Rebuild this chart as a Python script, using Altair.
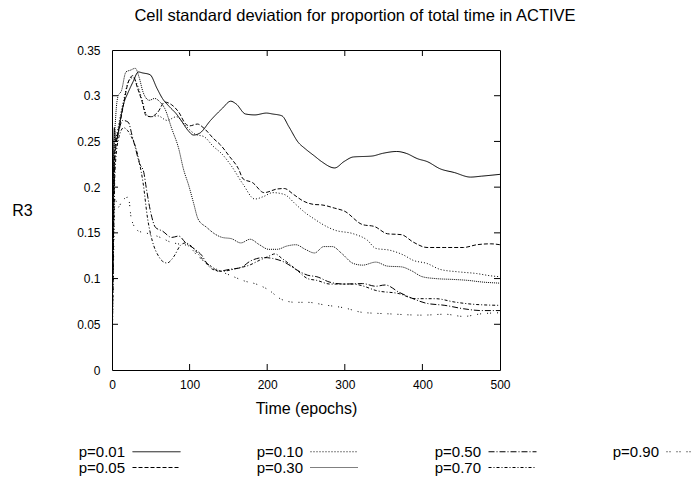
import altair as alt
import pandas as pd

title_text = "Cell standard deviation for proportion of total time in ACTIVE"
series_names = ["p=0.01", "p=0.05", "p=0.10", "p=0.30", "p=0.50", "p=0.70", "p=0.90"]
series_dash = [[1, 0], [4, 2], [1, 2], [1, 1], [6, 2, 1, 2], [3, 2, 1, 2], [1, 2, 1, 6]]

t_p001 = [0, 1, 3, 5, 7, 10, 15, 21, 27, 34, 39, 49, 58, 65, 74, 83, 89, 98, 105, 113, 127, 142, 153, 160, 172, 184, 199, 207, 219, 228, 240, 249, 261, 270, 287, 299, 311, 335, 349, 367, 379, 394, 406, 423, 441, 462, 476, 500]
v_p001 = [0, 0.12, 0.265, 0.25, 0.255, 0.27, 0.291, 0.304, 0.315, 0.326, 0.325, 0.323, 0.308, 0.297, 0.288, 0.28, 0.273, 0.262, 0.257, 0.259, 0.273, 0.286, 0.294, 0.291, 0.280, 0.279, 0.281, 0.280, 0.278, 0.266, 0.249, 0.242, 0.234, 0.228, 0.221, 0.228, 0.233, 0.234, 0.237, 0.239, 0.237, 0.231, 0.228, 0.220, 0.216, 0.211, 0.212, 0.214]

t_p005 = [0, 2, 4, 9, 15, 21, 27, 33, 39, 44, 50, 59, 68, 77, 86, 95, 100, 110, 119, 131, 140, 151, 163, 169, 181, 196, 213, 222, 234, 246, 261, 270, 287, 299, 323, 338, 355, 373, 388, 406, 429, 453, 470, 488, 500]
v_p005 = [0, 0.18, 0.245, 0.264, 0.291, 0.315, 0.322, 0.308, 0.293, 0.278, 0.277, 0.282, 0.293, 0.290, 0.282, 0.269, 0.267, 0.269, 0.264, 0.253, 0.246, 0.234, 0.220, 0.209, 0.205, 0.194, 0.198, 0.1985, 0.192, 0.185, 0.181, 0.1806, 0.177, 0.174, 0.159, 0.157, 0.149, 0.148, 0.140, 0.134, 0.134, 0.134, 0.137, 0.138, 0.137]

t_p010 = [0, 2, 4, 9, 15, 21, 27, 31, 38, 44, 50, 59, 71, 83, 95, 107, 119, 130, 142, 154, 169, 184, 196, 207, 222, 237, 249, 261, 270, 287, 311, 329, 340, 358, 376, 388, 406, 423, 447, 470, 488, 500]
v_p010 = [0, 0.2, 0.24, 0.27, 0.295, 0.315, 0.32, 0.315, 0.298, 0.28, 0.277, 0.278, 0.273, 0.277, 0.267, 0.258, 0.255, 0.245, 0.236, 0.223, 0.203, 0.187, 0.19, 0.194, 0.192, 0.181, 0.172, 0.165, 0.160, 0.153, 0.149, 0.142, 0.133, 0.131, 0.1256, 0.120, 0.1165, 0.110, 0.1073, 0.1055, 0.103, 0.102]

t_p030 = [0, 2, 5, 8, 12, 18, 24, 30, 35, 40, 48, 55, 62, 68, 77, 86, 92, 99, 105, 111, 122, 134, 142, 154, 166, 178, 190, 202, 213, 225, 237, 249, 261, 273, 284, 296, 311, 323, 340, 355, 373, 385, 400, 417, 441, 459, 476, 500]
v_p030 = [0, 0.22, 0.28, 0.30, 0.305, 0.326, 0.328, 0.33, 0.32, 0.304, 0.295, 0.297, 0.293, 0.286, 0.264, 0.242, 0.22, 0.2015, 0.183, 0.165, 0.156, 0.148, 0.145, 0.1436, 0.139, 0.143, 0.137, 0.132, 0.132, 0.1355, 0.137, 0.132, 0.128, 0.135, 0.135, 0.1275, 0.1165, 0.1147, 0.118, 0.1136, 0.1128, 0.109, 0.102, 0.100, 0.099, 0.098, 0.0963, 0.095]

t_p050 = [0, 2, 4, 9, 14, 21, 26, 31, 35, 41, 44, 50, 56, 65, 77, 86, 95, 107, 116, 122, 130, 137, 151, 166, 178, 196, 207, 222, 237, 252, 264, 281, 299, 323, 340, 352, 370, 388, 405, 429, 453, 476, 500]
v_p050 = [0, 0.15, 0.235, 0.262, 0.273, 0.271, 0.256, 0.24, 0.227, 0.216, 0.2, 0.172, 0.156, 0.152, 0.145, 0.1465, 0.139, 0.132, 0.125, 0.117, 0.112, 0.108, 0.110, 0.112, 0.119, 0.123, 0.122, 0.118, 0.110, 0.1037, 0.102, 0.096, 0.094, 0.0945, 0.0916, 0.093, 0.085, 0.078, 0.073, 0.0707, 0.067, 0.065, 0.065]

t_p070 = [0, 2, 4, 9, 15, 20, 25, 30, 35, 40, 46, 52, 60, 65, 71, 76, 80, 89, 95, 100, 110, 120, 130, 142, 160, 178, 190, 201, 210, 219, 230, 240, 252, 264, 281, 299, 311, 323, 340, 370, 391, 417, 441, 464, 500]
v_p070 = [0, 0.14, 0.22, 0.255, 0.265, 0.262, 0.255, 0.245, 0.228, 0.205, 0.165, 0.141, 0.1245, 0.119, 0.117, 0.12, 0.1245, 0.137, 0.139, 0.137, 0.128, 0.118, 0.11, 0.108, 0.111, 0.115, 0.12, 0.124, 0.127, 0.122, 0.115, 0.108, 0.100, 0.098, 0.094, 0.094, 0.094, 0.092, 0.087, 0.0835, 0.078, 0.078, 0.0744, 0.072, 0.0707]

t_p090 = [0, 2, 4, 8, 13, 21, 25, 34, 43, 56, 65, 75, 85, 98, 110, 125, 140, 154, 172, 184, 201, 219, 237, 252, 275, 299, 323, 355, 400, 429, 453, 476, 500]
v_p090 = [0, 0.12, 0.187, 0.178, 0.185, 0.189, 0.165, 0.152, 0.150, 0.147, 0.144, 0.14, 0.138, 0.136, 0.125, 0.115, 0.108, 0.103, 0.097, 0.0945, 0.088, 0.077, 0.074, 0.074, 0.071, 0.068, 0.063, 0.0615, 0.060, 0.061, 0.0586, 0.0615, 0.0626]

x_ticks = [0, 100, 200, 300, 400, 500]
y_ticks = [0, 0.05, 0.1, 0.15, 0.2, 0.25, 0.3, 0.35]
x_inner_ticks = [100, 200, 300, 400]
y_inner_ticks = [0.05, 0.1, 0.15, 0.2, 0.25, 0.3]

series_t = [t_p001, t_p005, t_p010, t_p030, t_p050, t_p070, t_p090]
series_v = [v_p001, v_p005, v_p010, v_p030, v_p050, v_p070, v_p090]

rows = []
for name, ts, vs in zip(series_names, series_t, series_v):
    for t, v in zip(ts, vs):
        rows.append({"t": t, "v": v, "series": name})
df = pd.DataFrame(rows)

W, H = 388, 320
FONT = "Liberation Sans"

x_scale = alt.Scale(domain=[0, 500], nice=False, zero=False)
y_scale = alt.Scale(domain=[0, 0.35], nice=False)

lines = alt.Chart(df).mark_line(color="black", strokeWidth=1, interpolate="monotone", clip=True).encode(
    x=alt.X("t:Q", scale=x_scale, axis=alt.Axis(values=x_ticks, title="Time (epochs)", ticks=False, domain=False,
                                                grid=False, labelFlush=False, labelPadding=9, titlePadding=10)),
    y=alt.Y("v:Q", scale=y_scale, axis=alt.Axis(values=y_ticks, format="~g", title="R3", ticks=False, domain=False,
                                                grid=False, labelFlush=False, labelPadding=12, titleAngle=0,
                                                titleX=-90, titleY=H / 2, titleAlign="center",
                                                titleBaseline="middle")),
    strokeDash=alt.StrokeDash("series:N", scale=alt.Scale(domain=series_names, range=series_dash),
                              legend=alt.Legend(title=None, orient="none", legendX=-2, legendY=394, columns=4,
                                                symbolType="M3,0H12.6", symbolSize=100,
                                                symbolStrokeColor="black", symbolStrokeWidth=1,
                                                labelFont=FONT, labelFontSize=15, labelColor="black",
                                                labelAlign="right", labelOffset=0, symbolOffset=0,
                                                columnPadding=73, rowPadding=0, padding=0)),
    detail="series:N",
)

xt = pd.DataFrame({"tx": x_inner_ticks})
yt = pd.DataFrame({"ty": y_inner_ticks})
tick_bottom = alt.Chart(xt).mark_rule(color="black", strokeWidth=1).encode(
    x=alt.X("tx:Q", scale=x_scale), y=alt.value(H), y2=alt.value(H - 6))
tick_top = alt.Chart(xt).mark_rule(color="black", strokeWidth=1).encode(
    x=alt.X("tx:Q", scale=x_scale), y=alt.value(0), y2=alt.value(6))
tick_left = alt.Chart(yt).mark_rule(color="black", strokeWidth=1).encode(
    y=alt.Y("ty:Q", scale=y_scale), x=alt.value(0), x2=alt.value(6))
tick_right = alt.Chart(yt).mark_rule(color="black", strokeWidth=1).encode(
    y=alt.Y("ty:Q", scale=y_scale), x=alt.value(W), x2=alt.value(W - 6))

chart = alt.layer(lines, tick_bottom, tick_top, tick_left, tick_right).properties(
    width=W, height=H,
    title=alt.TitleParams(title_text, font=FONT, fontSize=16.5, fontWeight="normal", color="black",
                          anchor="middle", frame="group", offset=20, dx=49),
    autosize=alt.AutoSizeParams(type="none"),
    padding={"left": 112, "top": 50, "right": 196, "bottom": 112},
).configure(background="white").configure_view(stroke="black", strokeWidth=1).configure_axis(
    labelFont=FONT, labelFontSize=12, labelColor="black", titleFont=FONT, titleFontSize=16,
    titleFontWeight="normal", titleColor="black"
)

chart.save("out.html", embed_options={"renderer": "svg", "actions": False})
